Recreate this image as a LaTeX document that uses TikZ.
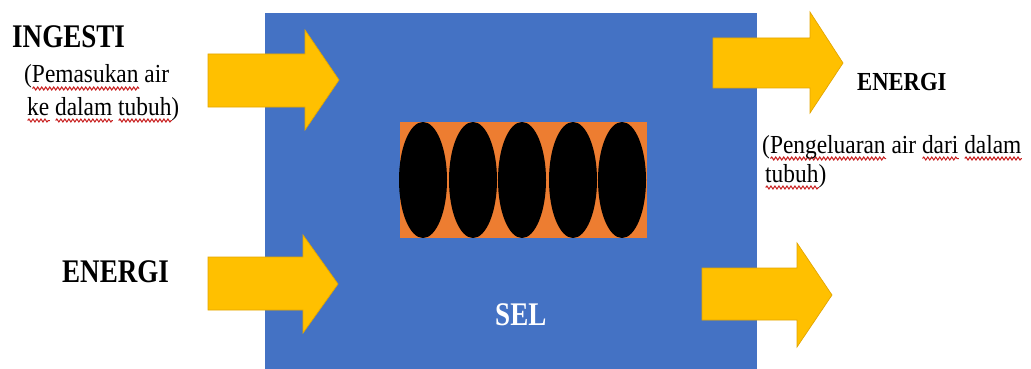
\documentclass[tikz,border=0pt]{standalone}
\usepackage{fontspec}
\setmainfont{Liberation Serif}
\newfontfamily\bigbold[FakeStretch=0.82]{Liberation Serif}
\newfontfamily\smallreg[FakeStretch=0.9]{Liberation Serif}
\newfontfamily\midbold[FakeStretch=0.87]{Liberation Serif}
\usetikzlibrary{shapes.geometric,decorations.pathmorphing}
\definecolor{selblue}{HTML}{4472C4}
\definecolor{gold}{HTML}{FFC000}
\definecolor{goldedge}{HTML}{E3A600}
\definecolor{orng}{HTML}{ED7D31}
\definecolor{squig}{HTML}{C81E1E}
\newsavebox\sqbox
\newlength\sqlen
\newcommand\sq[1]{\sbox\sqbox{#1}\setlength\sqlen{\wd\sqbox}\leavevmode\rlap{\tikz[baseline=0pt,x=1pt,y=1pt]\draw[squig, line width=1pt, decorate, decoration={snake, segment length=4pt, amplitude=1.5pt}] (0,-5.5) -- (\sqlen,-5.5);}\usebox\sqbox}
\tikzset{
  arrowshape/.style={fill=gold, draw=goldedge, line width=0.7pt, line join=miter},
  bigtxt/.style={anchor=base west, inner sep=0pt, font=\bigbold\bfseries\fontsize{33}{36}\selectfont},
  midtxt/.style={anchor=base west, inner sep=0pt, font=\midbold\bfseries\fontsize{26}{30}\selectfont},
  smalltxt/.style={anchor=base west, inner sep=0pt, font=\smallreg\fontsize{26}{30}\selectfont},
  cellell/.style={fill=black, ellipse, minimum width=48pt, minimum height=116pt, inner sep=0pt, draw=none}
}
\begin{document}
\begin{tikzpicture}[x=1pt, y=-1pt]
\useasboundingbox (0,0) rectangle (1031,369);
\fill[white] (0,0) rectangle (1031,369);
% cell
\fill[selblue] (265,13) rectangle (757,369);
% inner orange band
\fill[orng] (400,122) rectangle (647,238);
\foreach \cx/\nm in {423/e1, 473/e2, 522/e3, 573/e4, 622/e5}
  \node[cellell] (\nm) at (\cx,180) {};
% arrows
\draw[arrowshape] (208,54) -- (305,54) -- (305,30) -- (339,80) -- (305,130) -- (305,107) -- (208,107) -- cycle;
\draw[arrowshape] (208,257) -- (303,257) -- (303,235) -- (338,284) -- (303,333) -- (303,310) -- (208,310) -- cycle;
\draw[arrowshape] (713,38) -- (810,38) -- (810,12) -- (843,63) -- (810,113) -- (810,88) -- (713,88) -- cycle;
\draw[arrowshape] (702,268) -- (797,268) -- (797,243) -- (832,295) -- (797,347) -- (797,320) -- (702,320) -- cycle;
% texts
\node[bigtxt] (ingesti) at (12,48) {INGESTI};
\node[smalltxt] (pem1) at (24,83) {(\sq{Pemasukan} air};
\node[smalltxt] (pem2) at (27,115) {\sq{ke} \sq{dalam} \sq{tubuh})};
\node[bigtxt] (energiL) at (62,282) {ENERGI};
\node[midtxt] (energiR) at (857,90) {ENERGI};
\node[smalltxt] (peng1) at (762,153) {(\sq{Pengeluaran} air \sq{dari} \sq{dalam}};
\node[smalltxt] (peng2) at (765,182) {\sq{tubuh})};
\node[bigtxt, text=white] (sel) at (495,325) {SEL};
\end{tikzpicture}
\end{document}
